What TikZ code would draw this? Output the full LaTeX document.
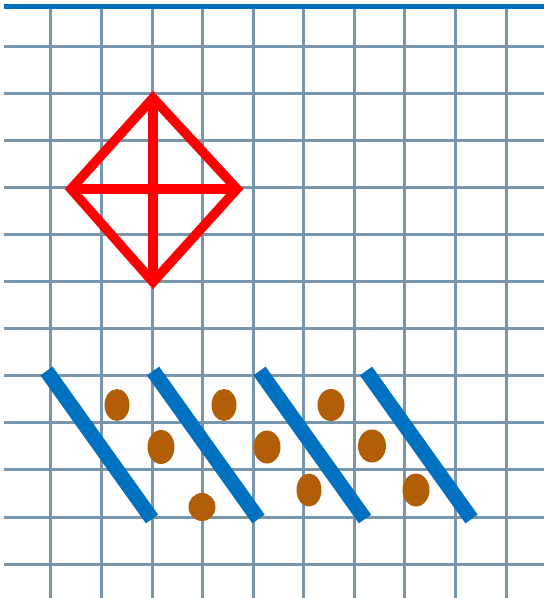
\documentclass[tikz,border=0pt]{standalone}
\usepackage{tikz}
\definecolor{gridc}{RGB}{122,150,172}
\definecolor{topblue}{RGB}{0,112,192}
\definecolor{barblue}{RGB}{0,112,192}
\definecolor{dotc}{RGB}{178,94,6}
\definecolor{redc}{RGB}{255,0,0}
\tikzset{
  gridline/.style={draw=gridc, line width=3pt},
  redline/.style={draw=redc, line width=9.5pt, line join=miter, line cap=butt},
  bar/.style={draw=barblue, line width=15pt, line cap=butt},
  dotmark/.style={fill=dotc, draw=none}
}
\begin{document}
\begin{tikzpicture}[x=1pt,y=-1pt]
\useasboundingbox (0,0) rectangle (544,598);
\fill[white] (0,0) rectangle (544,598);
% vertical grid lines
\foreach \x in {50,101,152,202,253,303,354,404,455,506}
  \draw[gridline] (\x,9) -- (\x,598);
% horizontal grid lines
\foreach \k in {0,...,11}
  \draw[gridline] (4,{46+47.1*\k}) -- (544,{46+47.1*\k});
% top blue line
\coordinate (tl) at (4,6.7);
\coordinate (tr) at (544,6.7);
\draw[draw=topblue, line width=5.5pt] (tl) -- (tr);
% red diamond
\coordinate (dt) at (153,98);
\coordinate (db) at (153,282);
\coordinate (dl) at (71,189);
\coordinate (dr) at (237,189);
\draw[redline] (dt) -- (dr) -- (db) -- (dl) -- cycle;
\draw[redline] (dt) -- (db);
\draw[redline] (dl) -- (dr);
% blue bars
\foreach \k in {0,1,2,3}{
  \coordinate (bt\k) at ({46.5+106.5*\k},371);
  \coordinate (bb\k) at ({152+106.5*\k},519);
  \draw[bar] (bt\k) -- (bb\k);
}
% brown dots
\fill[dotmark] (117,405) ellipse (12.5pt and 16pt);
\fill[dotmark] (161,447) ellipse (13.5pt and 17pt);
\fill[dotmark] (202,507) ellipse (13.5pt and 14pt);
\fill[dotmark] (224,405) ellipse (12.5pt and 16pt);
\fill[dotmark] (267,447) ellipse (13.5pt and 16.5pt);
\fill[dotmark] (331,405) ellipse (13.5pt and 16pt);
\fill[dotmark] (309,490) ellipse (12.5pt and 16.5pt);
\fill[dotmark] (372,446) ellipse (14pt and 16.5pt);
\fill[dotmark] (416,490) ellipse (13.5pt and 16.5pt);
\end{tikzpicture}
\end{document}
